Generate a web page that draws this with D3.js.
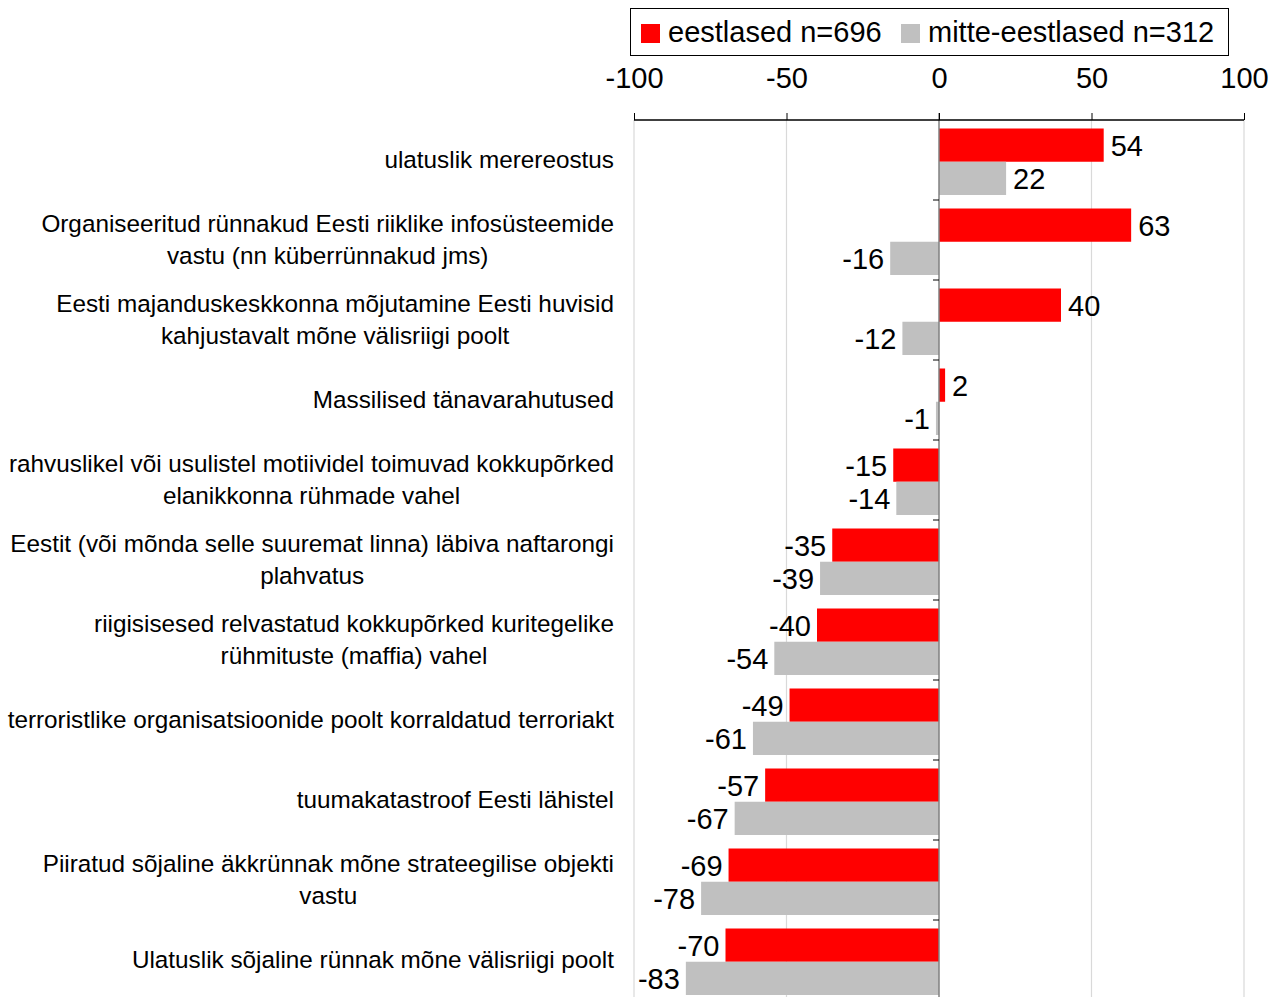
<!DOCTYPE html>
<html><head><meta charset="utf-8">
<script src="https://cdn.jsdelivr.net/npm/d3@7"></script>
<style>body{margin:0;background:#fff}svg{display:block;font-family:"Liberation Sans",Arial,sans-serif}</style>
</head><body><svg id="c" width="1284" height="997"></svg>
<script>
const categories = [
  ["ulatuslik merereostus"],
  ["Organiseeritud rünnakud Eesti riiklike infosüsteemide", "vastu (nn küberrünnakud jms)"],
  ["Eesti majanduskeskkonna mõjutamine Eesti huvisid", "kahjustavalt mõne välisriigi poolt"],
  ["Massilised tänavarahutused"],
  ["rahvuslikel või usulistel motiividel toimuvad kokkupõrked", "elanikkonna rühmade vahel"],
  ["Eestit (või mõnda selle suuremat linna) läbiva naftarongi", "plahvatus"],
  ["riigisisesed relvastatud kokkupõrked kuritegelike", "rühmituste (maffia) vahel"],
  ["terroristlike organisatsioonide poolt korraldatud terroriakt"],
  ["tuumakatastroof Eesti lähistel"],
  ["Piiratud sõjaline äkkrünnak mõne strateegilise objekti", "vastu"],
  ["Ulatuslik sõjaline rünnak mõne välisriigi poolt"]
];
const seriesNames = ["eestlased n=696", "mitte-eestlased n=312"];
const estonians = [54, 63, 40, 2, -15, -35, -40, -49, -57, -69, -70];
const nonEstonians = [22, -16, -12, -1, -14, -39, -54, -61, -67, -78, -83];
const xTicks = [-100, -50, 0, 50, 100];
const colors = ["#ff0000", "#c0c0c0"];

const svg = d3.select("#c");
const x = d3.scaleLinear().domain([-100, 100]).range([634, 1244]);
const idx = d3.range(categories.length);
const y = d3.scaleBand().domain(idx).range([120, 1000]);
const ys = d3.scaleBand().domain([0, 1]).range([8.5, 75]);
const vals = [estonians, nonEstonians];

// gridlines
svg.append("g").selectAll("line").data(xTicks.filter(t => t !== 0)).join("line")
  .attr("x1", d => x(d)).attr("x2", d => x(d)).attr("y1", 120).attr("y2", 1000)
  .attr("stroke", "#d9d9d9").attr("stroke-width", 1.2);

// bars
idx.forEach(i => {
  [0, 1].forEach(s => {
    const v = vals[s][i];
    svg.append("rect")
      .attr("x", x(Math.min(0, v))).attr("width", Math.abs(x(v) - x(0)))
      .attr("y", y(i) + ys(s)).attr("height", ys.bandwidth())
      .attr("fill", colors[s]);
    svg.append("text")
      .attr("x", v >= 0 ? x(v) + 7 : x(v) - 6)
      .attr("y", y(i) + ys(s) + ys.bandwidth() / 2)
      .attr("dy", "0.36em")
      .attr("text-anchor", v >= 0 ? "start" : "end")
      .attr("font-size", 29).attr("fill", "#000").text(String(v));
  });
});

// zero line
svg.append("line").attr("x1", x(0)).attr("x2", x(0)).attr("y1", 113).attr("y2", 1000)
  .attr("stroke", "#808080").attr("stroke-width", 1.5);
// category ticks
svg.append("g").selectAll("line").data(d3.range(1, categories.length + 1)).join("line")
  .attr("x1", x(0) - 6).attr("x2", x(0)).attr("y1", d => 120 + d * y.step()).attr("y2", d => 120 + d * y.step())
  .attr("stroke", "#000").attr("stroke-width", 1);

// top axis
const ax = d3.axisTop(x).tickValues(xTicks).tickSize(7).tickPadding(25).tickFormat(d => String(d));
const ag = svg.append("g").attr("transform", "translate(0,120)").call(ax);
ag.select(".domain").attr("stroke", "#000").attr("stroke-width", 1.5).attr("d", `M${x(-100)},0H${x(100)}`);
ag.selectAll(".tick line").attr("stroke", "#000");
ag.selectAll(".tick text").attr("font-size", 29).attr("fill", "#000").attr("font-family", '"Liberation Sans",Arial,sans-serif');

// category labels
const labelRight = 614;
idx.forEach(i => {
  const lines = categories[i];
  const g = svg.append("g");
  const lh = 32;
  const cy = y(i) + y.bandwidth() / 2;
  const texts = lines.map((l, k) => g.append("text")
    .attr("y", cy + (k - (lines.length - 1) / 2) * lh)
    .attr("dy", "0.33em").attr("font-size", 24.3).attr("fill", "#000")
    .attr("text-anchor", "middle").text(l));
  const maxW = d3.max(texts, t => t.node().getComputedTextLength());
  texts.forEach(t => t.attr("x", labelRight - maxW / 2));
});

// legend
const lg = svg.append("g");
lg.append("rect").attr("x", 630.5).attr("y", 8.5).attr("width", 598).attr("height", 47)
  .attr("fill", "#fff").attr("stroke", "#000").attr("stroke-width", 1);
const legX = [641, 901];
seriesNames.forEach((n, s) => {
  lg.append("rect").attr("x", legX[s]).attr("y", 24).attr("width", 19).attr("height", 19).attr("fill", colors[s]);
  lg.append("text").attr("x", legX[s] + 27).attr("y", 32).attr("dy", "0.36em")
    .attr("font-size", 29).attr("fill", "#000").text(n);
});
</script>
</body></html>
